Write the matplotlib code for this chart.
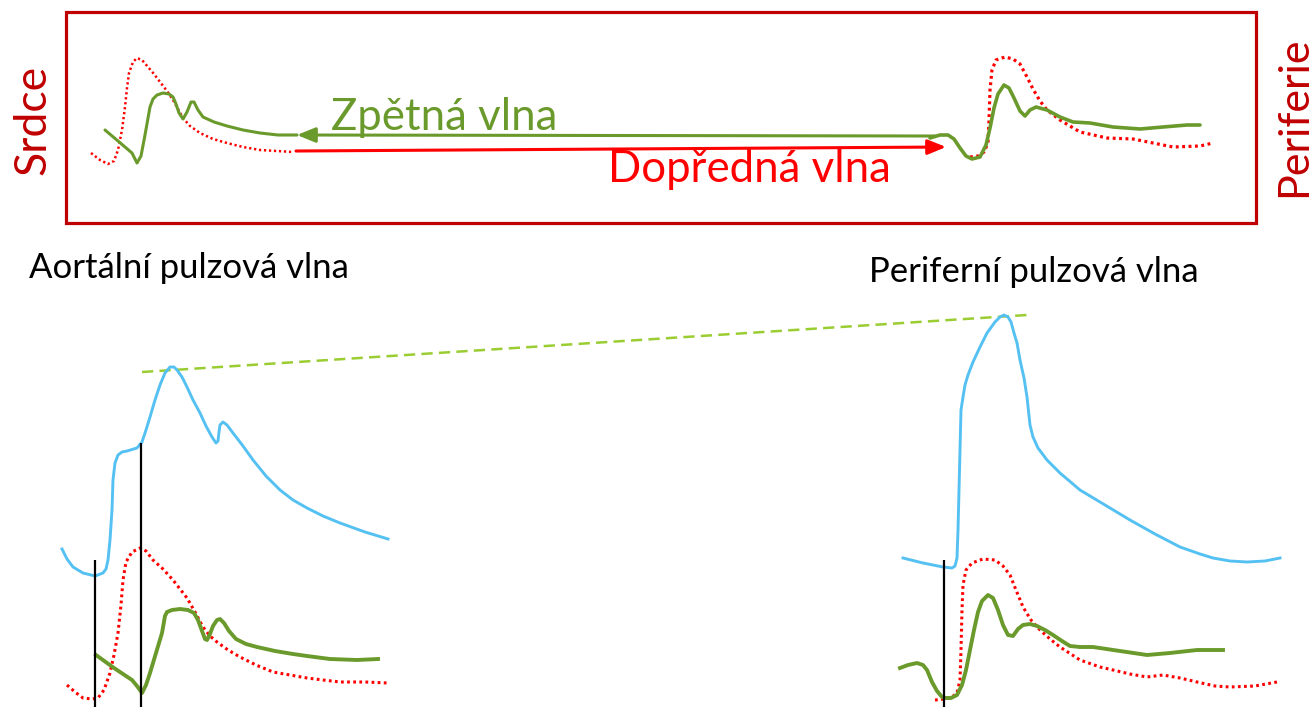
import numpy as np
import matplotlib.pyplot as plt
from matplotlib.patches import Rectangle

plt.rcParams['font.family'] = ['Lato', 'DejaVu Sans']

# colours
dark_red = '#C00000'
red = '#FF0000'
green = '#6B9A2C'
blue = '#55C1F2'
light_green = '#9ACD32'

# top box: heart side curves (pixel coords of the reference picture)
top_left_fwd_x = [91, 100, 108, 114, 118, 122, 125, 127, 129, 133, 137, 142, 148, 154, 160, 167, 173, 178, 183, 190, 200, 213, 227, 243, 260, 277, 293]
top_left_fwd_y = [153, 160, 164, 161, 150, 130, 107, 88, 73, 62, 58, 60, 67, 74, 82, 91, 100, 109, 118, 126, 133, 139, 143, 147, 150, 151, 152]
top_left_back_x = [105, 118, 132, 137, 141, 145, 150, 153, 157, 163, 169, 173, 176, 179, 183, 187, 191, 194, 198, 203, 214, 227, 243, 260, 278, 297]
top_left_back_y = [130, 141, 153, 163, 156, 135, 107, 99, 95, 93, 94, 97, 104, 113, 119, 112, 102, 102, 110, 117, 122, 126, 130, 133, 135, 135]

# top box: periphery side curves
top_right_back_x = [930, 940, 948, 954, 960, 966, 972, 980, 986, 990, 994, 998, 1004, 1009, 1014, 1020, 1025, 1030, 1036, 1047, 1060, 1073, 1090, 1113, 1140, 1163, 1187, 1200]
top_right_back_y = [138, 135, 135, 139, 148, 156, 159, 157, 145, 128, 108, 94, 85, 88, 98, 111, 116, 110, 107, 110, 117, 122, 123, 127, 129, 127, 125, 125]
top_right_fwd_x = [970, 978, 984, 988, 989, 990, 992, 996, 1005, 1013, 1020, 1027, 1033, 1040, 1047, 1060, 1080, 1107, 1133, 1153, 1173, 1200, 1213]
top_right_fwd_y = [157, 156, 152, 143, 120, 90, 70, 60, 57, 59, 64, 77, 89, 101, 110, 120, 132, 138, 139, 143, 147, 146, 143]

# travelling waves (arrows)
back_arrow_x = [935, 297]
back_arrow_y = [136, 135]
fwd_arrow_x = [296, 946]
fwd_arrow_y = [151, 147]

# bottom left: aortic wave
aorta_blue_x = [62, 67, 73, 83, 95, 103, 106, 108, 110, 112, 113, 115, 118, 122, 127, 137, 142, 146, 150, 155, 160, 165, 170, 174, 177, 182, 187, 193, 200, 206, 212, 216, 218, 219, 220, 223, 227, 233, 243, 253, 266, 280, 293, 307, 323, 340, 365, 388]
aorta_blue_y = [549, 559, 567, 573, 576, 573, 569, 560, 540, 510, 480, 463, 455, 452, 451, 448, 442, 430, 417, 400, 385, 373, 367, 367, 370, 377, 387, 400, 413, 426, 437, 443, 441, 432, 425, 422, 425, 433, 446, 460, 476, 490, 500, 508, 516, 523, 532, 539]
aorta_fwd_x = [67, 75, 83, 92, 98, 104, 110, 114, 118, 121, 123, 126, 132, 140, 146, 153, 163, 173, 180, 187, 195, 203, 210, 217, 228, 240, 256, 273, 290, 307, 323, 340, 365, 388]
aorta_fwd_y = [685, 692, 698, 699, 698, 690, 673, 655, 633, 605, 580, 562, 552, 548, 551, 560, 569, 580, 589, 598, 612, 627, 636, 642, 650, 657, 665, 672, 675, 678, 680, 682, 682, 683]
aorta_back_x = [96, 114, 132, 137, 142, 146, 150, 156, 162, 165, 167, 172, 180, 188, 194, 198, 202, 205, 207, 210, 213, 217, 220, 224, 229, 236, 246, 257, 275, 293, 307, 330, 357, 378]
aorta_back_y = [655, 668, 680, 686, 693, 685, 673, 653, 633, 616, 612, 610, 609, 610, 613, 620, 631, 639, 640, 634, 626, 620, 619, 623, 631, 639, 644, 647, 651, 654, 656, 659, 660, 659]
aorta_marks_x = [95, 141]
aorta_marks_top = [560, 443]

# bottom right: peripheral wave
peri_blue_x = [903, 923, 943, 952, 955, 957, 958, 959, 960, 961, 963, 965, 968, 973, 980, 987, 995, 1000, 1004, 1008, 1011, 1014, 1017, 1020, 1024, 1027, 1030, 1033, 1038, 1047, 1060, 1080, 1105, 1130, 1155, 1180, 1200, 1213, 1230, 1247, 1265, 1280]
peri_blue_y = [558, 563, 567, 568, 566, 558, 530, 490, 450, 410, 397, 385, 375, 362, 347, 333, 322, 317, 315, 317, 322, 333, 343, 360, 378, 397, 425, 437, 448, 460, 473, 490, 505, 520, 534, 547, 554, 558, 561, 562, 561, 558]
peri_marks_x = [944]
peri_marks_top = [560]
peri_fwd_x = [935, 945, 952, 957, 960, 961, 962, 963, 966, 972, 983, 995, 1003, 1010, 1016, 1023, 1031, 1040, 1050, 1060, 1080, 1100, 1113, 1130, 1147, 1163, 1180, 1197, 1215, 1230, 1255, 1277]
peri_fwd_y = [700, 699, 697, 693, 680, 650, 610, 585, 570, 563, 559, 560, 566, 575, 590, 607, 620, 630, 639, 647, 660, 667, 670, 674, 677, 675, 678, 682, 686, 687, 686, 682]
peri_back_x = [900, 908, 917, 923, 927, 932, 937, 942, 946, 951, 957, 962, 966, 970, 974, 978, 982, 988, 993, 998, 1003, 1008, 1013, 1018, 1023, 1030, 1037, 1045, 1053, 1062, 1070, 1080, 1093, 1120, 1147, 1170, 1197, 1223]
peri_back_y = [668, 665, 663, 665, 670, 682, 691, 697, 698, 698, 695, 685, 670, 650, 630, 612, 601, 595, 598, 610, 625, 635, 636, 629, 625, 624, 626, 630, 635, 641, 646, 647, 647, 651, 655, 653, 650, 650]

# amplitude reference line between the two blue peaks
amp_line_x = [142, 1027]
amp_line_y = [372, 315]

fig = plt.figure(figsize=(13.16, 7.07), dpi=100)
ax = fig.add_axes([0, 0, 1, 1])
ax.set_xlim(0, 1316)
ax.set_ylim(707, 0)
ax.axis('off')

dots = (0, (0.9, 1.1))

# frame and side labels
ax.add_patch(Rectangle((66, 12), 1190, 211, fill=False, edgecolor=dark_red, lw=2.3))
ax.text(33, 120, 'Srdce', color=dark_red, fontsize=32, rotation=90, ha='center', va='center')
ax.text(1294, 117, 'Periferie', color=dark_red, fontsize=31, rotation=90, ha='center', va='center')

# top schematic
ax.plot(top_left_fwd_x, top_left_fwd_y, color=red, lw=1.8, ls=dots)
ax.plot(top_left_back_x, top_left_back_y, color=green, lw=2.2, solid_capstyle='round')
ax.plot(top_right_fwd_x, top_right_fwd_y, color=red, lw=2.3, ls=dots)
ax.plot(top_right_back_x, top_right_back_y, color=green, lw=2.6, solid_capstyle='round')

ax.annotate('', xy=(back_arrow_x[1], back_arrow_y[1]), xytext=(back_arrow_x[0], back_arrow_y[0]),
            arrowprops=dict(arrowstyle='-|>,head_length=1.1,head_width=0.45', color=green, lw=2.2,
                            shrinkA=0, shrinkB=0))
ax.annotate('', xy=(fwd_arrow_x[1], fwd_arrow_y[1]), xytext=(fwd_arrow_x[0], fwd_arrow_y[0]),
            arrowprops=dict(arrowstyle='-|>,head_length=1.1,head_width=0.45', color=red, lw=2.2,
                            shrinkA=0, shrinkB=0))
ax.text(331, 117, 'Zpětná vlna', color=green, fontsize=31.5, ha='left', va='center')
ax.text(608, 169, 'Dopředná vlna', color=red, fontsize=31.5, ha='left', va='center')

# captions
ax.text(29, 268, 'Aortální pulzová vlna', color='black', fontsize=25, ha='left', va='center')
ax.text(869, 272, 'Periferní pulzová vlna', color='black', fontsize=25, ha='left', va='center')

# amplitude line
ax.plot(amp_line_x, amp_line_y, color=light_green, lw=1.8, ls=(0, (4.5, 2.5)))

# aortic wave
ax.plot(aorta_blue_x, aorta_blue_y, color=blue, lw=2.1)
ax.plot(aorta_fwd_x, aorta_fwd_y, color=red, lw=2.2, ls=dots)
ax.plot(aorta_back_x, aorta_back_y, color=green, lw=2.8)
ax.vlines(aorta_marks_x, aorta_marks_top, 707, color='black', lw=1.6)

# peripheral wave
ax.plot(peri_blue_x, peri_blue_y, color=blue, lw=2.1)
ax.plot(peri_fwd_x, peri_fwd_y, color=red, lw=2.2, ls=dots)
ax.plot(peri_back_x, peri_back_y, color=green, lw=2.8)
ax.vlines(peri_marks_x, peri_marks_top, 707, color='black', lw=1.6)

fig.savefig('out.png', dpi=100)
